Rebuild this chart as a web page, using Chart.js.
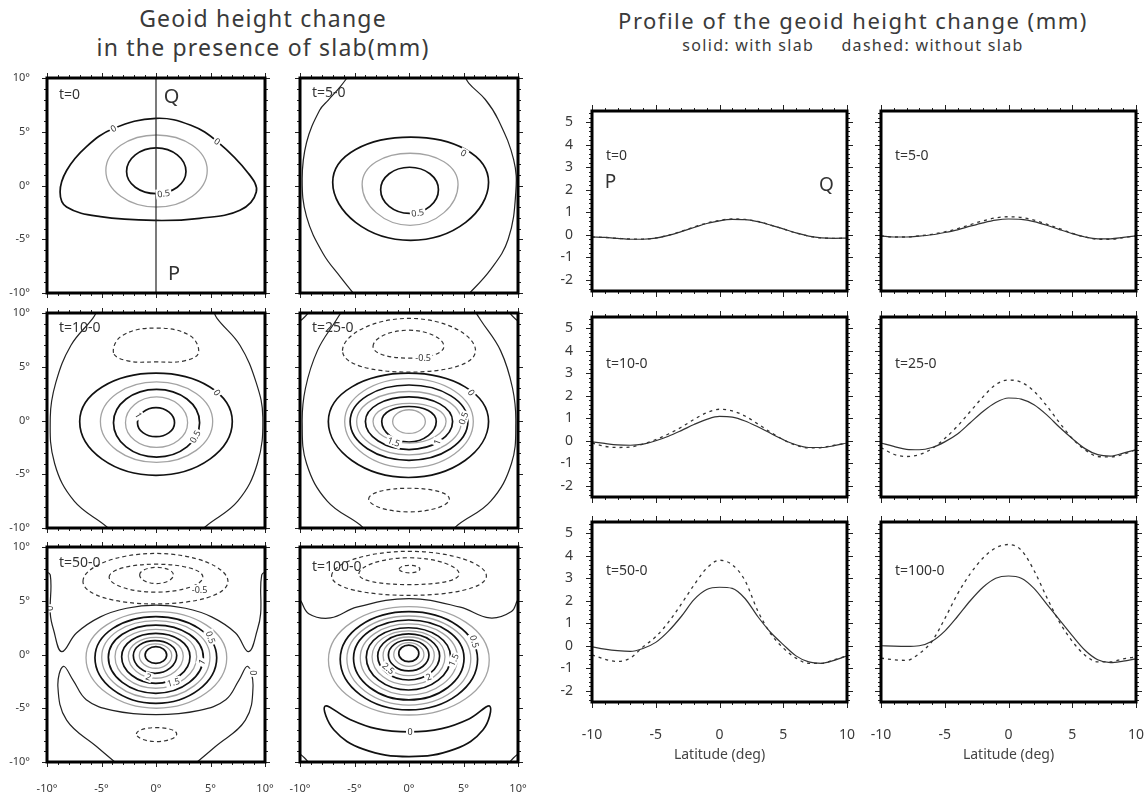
<!DOCTYPE html>
<html>
<head>
<meta charset="utf-8">
<script src="https://cdn.jsdelivr.net/npm/chart.js@4.4.1/dist/chart.umd.min.js"></script>
<style>
  body { margin: 0; width: 1147px; height: 793px; position: relative; overflow: hidden; background: #fff; font-family: 'Noto Sans', sans-serif; color: #3a3a3a; }
  canvas { position: absolute; }
  .title { position: absolute; text-align: center; white-space: nowrap; }
</style>
</head>
<body>
<div class="title" style="left:0;width:526px;top:4px;font-size:23px;line-height:29px;letter-spacing:1.2px;">Geoid height change<br>in the presence of slab(mm)</div>
<div class="title" style="left:560px;width:586px;top:6px;font-size:22px;line-height:28px;letter-spacing:1.5px;">Profile of the geoid height change (mm)</div>
<div class="title" style="left:560px;width:586px;top:35px;font-size:16px;line-height:21px;letter-spacing:1.3px;">solid: with slab &nbsp;&nbsp;&nbsp; dashed: without slab</div>
<script>
// ---------- profiles along P-Q (right half) ----------
const latitude = [-10, -9, -8, -7, -6, -5, -4, -3, -2, -1, 0, 1, 2, 3, 4, 5, 6, 7, 8, 9, 10];
const profileTicks = [-2, -1, 0, 1, 2, 3, 4, 5];

const solidT0 = [-0.1, -0.12, -0.16, -0.2, -0.2, -0.15, -0.03, 0.14, 0.32, 0.5, 0.62, 0.68, 0.67, 0.58, 0.43, 0.26, 0.08, -0.06, -0.14, -0.16, -0.15];
const dashT0 = [-0.1, -0.12, -0.16, -0.19, -0.19, -0.14, -0.02, 0.15, 0.34, 0.52, 0.64, 0.7, 0.68, 0.59, 0.43, 0.26, 0.08, -0.06, -0.14, -0.16, -0.15];
const solidT5 = [-0.05, -0.1, -0.1, -0.06, 0.0, 0.1, 0.22, 0.38, 0.53, 0.65, 0.7, 0.68, 0.58, 0.42, 0.23, 0.05, -0.1, -0.18, -0.18, -0.12, -0.05];
const dashT5 = [-0.05, -0.1, -0.1, -0.05, 0.02, 0.13, 0.27, 0.45, 0.62, 0.75, 0.8, 0.77, 0.65, 0.47, 0.27, 0.07, -0.1, -0.2, -0.2, -0.13, -0.05];
const solidT10 = [-0.05, -0.12, -0.18, -0.2, -0.15, 0.0, 0.2, 0.45, 0.72, 0.95, 1.08, 1.05, 0.88, 0.62, 0.33, 0.05, -0.18, -0.3, -0.3, -0.22, -0.1];
const dashT10 = [-0.1, -0.25, -0.3, -0.28, -0.15, 0.05, 0.3, 0.6, 0.95, 1.25, 1.4, 1.33, 1.1, 0.75, 0.38, 0.05, -0.2, -0.32, -0.3, -0.2, -0.1];
const solidT25 = [-0.1, -0.25, -0.38, -0.4, -0.3, -0.05, 0.3, 0.8, 1.3, 1.7, 1.9, 1.85, 1.6, 1.15, 0.6, 0.1, -0.35, -0.62, -0.68, -0.55, -0.4];
const dashT25 = [-0.3, -0.6, -0.7, -0.62, -0.35, 0.1, 0.65, 1.3, 1.95, 2.5, 2.7, 2.6, 2.2, 1.55, 0.8, 0.1, -0.4, -0.7, -0.72, -0.6, -0.4];
const solidT50 = [-0.05, -0.15, -0.22, -0.25, -0.12, 0.15, 0.65, 1.3, 2.05, 2.5, 2.6, 2.55, 2.1, 1.3, 0.6, 0.05, -0.45, -0.72, -0.78, -0.65, -0.45];
const dashT50 = [-0.4, -0.6, -0.7, -0.55, -0.05, 0.4, 1.05, 1.85, 2.7, 3.45, 3.8, 3.6, 2.9, 1.55, 0.55, -0.1, -0.55, -0.78, -0.78, -0.62, -0.45];
const solidT100 = [0.0, -0.02, -0.03, 0.0, 0.2, 0.65, 1.3, 2.0, 2.6, 3.0, 3.1, 3.0, 2.55, 1.85, 1.15, 0.45, -0.2, -0.62, -0.75, -0.68, -0.58];
const dashT100 = [-0.55, -0.62, -0.65, -0.35, 0.2, 1.2, 2.3, 3.2, 3.9, 4.35, 4.5, 4.25, 3.35, 2.15, 1.05, 0.2, -0.42, -0.72, -0.72, -0.58, -0.5];

// ---------- contour maps (left half), lon/lat in degrees ----------
// rings: [level, west lon, east lon, north lat, south lat, lat of west/east point]
const zeroT0 = [[0, -3.25], [-5.1, -2.9], [-8.2, -2.0], [-8.8, -0.6], [-8.2, 1.4], [-6.4, 3.6], [-3.9, 5.3], [0, 6.25], [3.2, 5.6], [5.6, 4.1], [8.5, 1.1], [9.2, -0.6], [7.7, -2.3], [4.0, -3.05]];
const ringsT0 = [[0.25, -4.6, 4.7, 4.7, -2.0, 1.4], [0.5, -2.7, 2.75, 3.5, -0.75, 1.3]];
const lineQP = [[0, -10.5], [0, 10.5]];

const ringsT5 = [[0, -7.0, 7.3, 4.5, -5.1, 0.3], [0.25, -4.3, 4.5, 3.0, -3.7, 0.1], [0.5, -2.6, 2.7, 1.7, -2.6, -0.4]];
const arcsT5 = [
  [[-5.4, 10.4], [-6.3, 9.2], [-7.4, 7.95], [-8.2, 7], [-9.4, 4], [-9.8, 0.6], [-9.4, -2.9], [-7.9, -6.3], [-6.3, -8.5], [-4.8, -10.4]],
  [[5.0, 10.4], [5.5, 9.5], [7.0, 8.0], [8.2, 6.1], [9.6, 2.4], [9.8, -0.6], [9.1, -5.0], [7.5, -7.8], [5.2, -10.4]]
];

const dashTopT10 = [[-3.9, 6.3], [-3.1, 7.9], [0, 8.6], [3.1, 7.9], [3.9, 6.3], [2.6, 5.55], [0, 5.45], [-2.6, 5.55]];
const ringsT10 = [[0, -7.0, 7.0, 4.4, -5.1, -0.1], [0.25, -5.1, 5.2, 3.6, -3.9, -0.1],
  [0.5, -3.9, 4.0, 2.9, -3.4, -0.2], [0.75, -2.8, 2.9, 2.2, -2.5, -0.2], [1.0, -1.7, 1.7, 1.2, -1.5, -0.2]];
const arcsT10 = [
  [[-5.3, 10.4], [-5.8, 9.5], [-7.8, 7], [-9.2, 3.5], [-9.7, 0.3], [-9.3, -4], [-7.5, -7.5], [-4.5, -9.9], [-4.2, -10.4]],
  [[5.2, 10.4], [5.6, 9.5], [7.7, 7], [9.2, 3.5], [9.8, 0.3], [9.3, -4], [7.5, -7.5], [4.5, -9.9], [4.2, -10.4]]
];

const ringsT25 = [[-0.25, -6.1, 6.1, 9.5, 4.5, 6.5], [-0.5, -3.3, 3.2, 8.4, 5.8, 6.9], [-0.25, -3.7, 3.7, -6.3, -8.5, -7.3],
  [0, -7.4, 7.3, 4.4, -5.3, -0.1], [0.25, -5.9, 5.9, 3.9, -4.4, -0.1], [0.5, -5.4, 5.4, 3.3, -3.7, -0.1],
  [0.75, -4.8, 4.8, 2.7, -3.2, -0.1], [1.0, -4.0, 4.0, 2.2, -2.7, -0.1], [1.25, -3.3, 3.4, 1.6, -2.1, -0.1],
  [1.5, -2.5, 2.5, 1.3, -2.0, -0.1], [1.75, -1.5, 1.5, 1.0, -1.2, -0.1]];
const arcsT25 = [
  [[-6.0, 10.4], [-6.7, 9.3], [-8.4, 6.5], [-9.5, 3], [-9.8, -0.2], [-9.4, -4], [-7.5, -7.5], [-4.5, -9.7], [-3.8, -10.4]],
  [[5.9, 10.4], [6.6, 9.3], [8.4, 6.5], [9.5, 3], [9.8, -0.2], [9.4, -4], [7.5, -7.5], [4.5, -9.7], [3.8, -10.4]],
  [[-10.3, 9.0], [-9.6, 9.6], [-9.0, 10.3]],
  [[10.3, 9.0], [9.6, 9.6], [9.0, 10.3]]
];

const ringsT50 = [[-0.25, -6.7, 6.6, 9.4, 4.7, 6.8], [-0.5, -4.3, 4.3, 8.4, 5.8, 7.2], [-0.75, -1.5, 1.6, 8.1, 6.6, 7.4],
  [-0.25, -1.8, 1.9, -6.8, -8.1, -7.4],
  [0.25, -6.42, 6.49, 3.98, -5.0, -0.3], [0.5, -5.6, 5.57, 3.52, -4.54, -0.3], [0.75, -4.98, 4.95, 3.15, -4.07, -0.25],
  [1.0, -4.37, 4.34, 2.74, -3.61, -0.25], [1.25, -3.76, 3.73, 2.34, -3.14, -0.2], [1.5, -3.15, 3.12, 1.97, -2.68, -0.2],
  [1.75, -2.54, 2.5, 1.6, -2.21, -0.15], [2.0, -2.08, 1.9, 1.29, -1.75, -0.1], [2.25, -1.53, 1.44, 0.98, -1.28, -0.1],
  [2.5, -1.0, 0.98, 0.73, -0.82, -0.05]];
const arcsT50 = [
  [[-10.3, 7.8], [-9.7, 7.4], [-9.7, 3.8], [-9.4, 2.3], [-8.65, 0.26], [-7.3, 2.0], [-5.1, 3.5], [-2.7, 4.3], [0, 4.6], [2.7, 4.3], [5.1, 3.5], [7.3, 2.0], [8.5, 0.26], [9.3, 2.3], [9.6, 3.8], [9.7, 7.4], [10.3, 7.8]],
  [[-3.3, -10.4], [-5.4, -8.6], [-8.2, -6.1], [-9.0, -3.0], [-8.5, -1.1], [-7.6, -2.4], [-6.4, -4.2], [-4, -5.2], [0, -5.6], [4, -5.2], [6.4, -4.2], [7.6, -2.4], [8.4, -1.1], [8.9, -3.0], [8.2, -6.1], [5.4, -8.6], [3.3, -10.4]]
];

const ringsT100 = [[-0.25, -7.1, 7.1, 9.6, 5.5, 7.3], [-0.5, -4.6, 4.6, 9.0, 6.5, 7.5], [-0.75, -0.9, 1.0, 8.3, 7.6, 7.95],
  [0.25, -7.39, 7.36, 4.45, -5.63, -0.5], [0.5, -6.31, 6.29, 3.98, -5.16, -0.45], [0.75, -5.7, 5.67, 3.58, -4.7, -0.4],
  [1.0, -5.09, 5.05, 3.21, -4.23, -0.35], [1.25, -4.47, 4.44, 2.84, -3.77, -0.3], [1.5, -3.92, 3.82, 2.49, -3.3, -0.25],
  [1.75, -3.39, 3.3, 2.19, -2.84, -0.2], [2.0, -2.87, 2.81, 1.91, -2.37, -0.15], [2.25, -2.38, 2.32, 1.63, -1.97, -0.1],
  [2.5, -1.89, 1.83, 1.35, -1.53, -0.05], [2.75, -1.4, 1.37, 1.1, -1.1, 0.0], [3.0, -0.94, 0.9, 0.88, -0.67, 0.1]];
const arcsT100 = [
  [[-10.4, 5.4], [-10, 5.1], [-9.2, 3.8], [-7.2, 3.4], [-4.8, 4.4], [0, 5.2], [4.7, 4.4], [7.4, 3.4], [9.4, 4.0], [10, 5.1], [10.4, 5.4]],
  [[-10.3, -9.0], [-9.6, -9.6], [-9.0, -10.3]],
  [[10.3, -9.0], [9.6, -9.6], [9.0, -10.3]]
];
const crescentT100 = [[-7.7, -4.8], [-5.5, -6.0], [-3, -6.9], [0, -7.2], [3, -6.9], [5.5, -6.0], [7.4, -4.8], [6.8, -7.0], [4.2, -8.8], [0, -9.5], [-4.2, -8.8], [-6.9, -7.0]];

// contour labels: [lon, lat, text, angle]
const labelsT0 = [[-3.9, 5.3, '0', -30], [5.6, 4.1, '0', 35], [0.7, -0.75, '0.5', -8]];
const labelsT5 = [[5.0, 3.0, '0', 30], [0.8, -2.55, '0.5', -8]];
const labelsT10 = [[5.6, 2.6, '0', 55], [3.6, -1.5, '0.5', -60], [-1.6, 0.5, '1', 60]];
const labelsT25 = [[5.7, 2.6, '0', 55], [5.0, 0.2, '0.5', -70], [2.6, -2.0, '1', -70], [-1.4, -2.0, '1.5', 20], [1.3, 5.8, '-0.5', 0]];
const labelsT50 = [[5.0, 1.6, '0.5', 70], [4.2, -0.7, '1', -60], [1.6, -2.6, '1.5', -15], [-0.7, -2.1, '2', 20], [-9.85, 4.3, '0', 90], [8.95, -1.7, '0', 90], [4.0, 6.0, '-0.5', 0]];
const labelsT100 = [[6.0, 1.2, '0.5', 75], [4.1, -0.5, '1.5', -65], [1.8, -2.1, '2', -20], [-1.9, -1.3, '2.5', 40], [0.1, -7.2, '0', 0]];

Chart.defaults.font.family = "'Noto Sans', sans-serif";
Chart.defaults.color = '#3a3a3a';

// draws the heavy frame, the tick marks on all four sides and the text inside the panel
const framePlugin = {
  id: 'frame',
  afterDatasetsDraw(chart, args, opt) {
    const { ctx, chartArea: a, scales } = chart;
    const xs = scales.x, ys = scales.y;
    ctx.save();
    (opt.labels || []).forEach(([lon, la, txt, ang]) => {
      ctx.save();
      ctx.translate(xs.getPixelForValue(lon), ys.getPixelForValue(la));
      ctx.rotate(ang * Math.PI / 180);
      ctx.font = "9px 'Noto Sans', sans-serif";
      const w = ctx.measureText(txt).width;
      ctx.fillStyle = '#fff';
      ctx.fillRect(-w / 2 - 1.5, -5, w + 3, 10);
      ctx.fillStyle = '#333';
      ctx.textAlign = 'center';
      ctx.textBaseline = 'middle';
      ctx.fillText(txt, 0, 0.5);
      ctx.restore();
    });
    (opt.texts || []).forEach(([lon, v, txt, size]) => {
      ctx.font = size + "px 'Noto Sans', sans-serif";
      ctx.fillStyle = '#333';
      ctx.textAlign = 'left';
      ctx.textBaseline = 'middle';
      ctx.fillText(txt, xs.getPixelForValue(lon), ys.getPixelForValue(v));
    });
    ctx.strokeStyle = '#222';
    ctx.lineWidth = 1;
    ctx.beginPath();
    const nx = Math.round((xs.max - xs.min) / opt.xMinor);
    for (let k = 0; k <= nx; k++) {
      const v = xs.min + k * opt.xMinor;
      const p = Math.round(xs.getPixelForValue(v)) + 0.5;
      const len = Math.abs(v / opt.xMajor - Math.round(v / opt.xMajor)) < 1e-6 ? opt.major : opt.minor;
      ctx.moveTo(p, a.top); ctx.lineTo(p, a.top - len);
      ctx.moveTo(p, a.bottom); ctx.lineTo(p, a.bottom + len);
    }
    const y0 = Math.ceil(ys.min / opt.yMinor - 1e-6);
    const y1 = Math.floor(ys.max / opt.yMinor + 1e-6);
    for (let k = y0; k <= y1; k++) {
      const v = k * opt.yMinor;
      const p = Math.round(ys.getPixelForValue(v)) + 0.5;
      const len = Math.abs(v / opt.yMajor - Math.round(v / opt.yMajor)) < 1e-6 ? opt.major : opt.minor;
      ctx.moveTo(a.left, p); ctx.lineTo(a.left - len, p);
      ctx.moveTo(a.right, p); ctx.lineTo(a.right + len, p);
    }
    ctx.stroke();
    ctx.strokeStyle = '#000';
    ctx.lineWidth = 3;
    ctx.strokeRect(a.left, a.top, a.right - a.left, a.bottom - a.top);
    ctx.restore();
  }
};

// canvas = plot rectangle plus generous margins, so the layout never has to shrink the plot
function makeCanvas(rect, m) {
  const c = document.createElement('canvas');
  const w = rect[2] + m.l + m.r, h = rect[3] + m.t + m.b;
  c.width = w; c.height = h;
  c.style.left = (rect[0] - m.l) + 'px';
  c.style.top = (rect[1] - m.t) + 'px';
  c.style.width = w + 'px';
  c.style.height = h + 'px';
  document.body.appendChild(c);
  return c;
}

function styleFor(lv) {
  if (lv < 0) return { color: '#333', width: 1.2, dash: [4, 3] };
  if (Math.round(lv * 4) % 2 === 1) return { color: '#a3a3a3', width: 1.3, dash: [] };
  return { color: '#111', width: 1.7, dash: [] };
}

function ringLoop(r) {
  const [lv, w, e, n, s, yc] = r;
  const cx = (w + e) / 2;
  return [[w, yc], [cx, n], [e, yc], [cx, s]];
}

function curveSet(pts, st, closed, tension) {
  const src = closed ? [pts[pts.length - 1], ...pts, pts[0], pts[1]] : pts;
  const last = src.length - 2;
  const ds = {
    data: src.map(([x, y]) => ({ x, y })),
    borderColor: st.color, borderWidth: st.width, borderDash: st.dash,
    pointRadius: 0, tension: tension, fill: false, clip: 0
  };
  if (closed) {
    ds.segment = { borderColor: c => (c.p0DataIndex === 0 || c.p0DataIndex === last) ? 'rgba(0,0,0,0)' : st.color };
  }
  return ds;
}

function contourChart(rect, rings, loops, arcs, labels, texts, showX, showY) {
  const m = { l: 45, r: 30, t: 30, b: 30 };
  const datasets = [];
  const arcStyle = { color: '#222', width: 1.2, dash: [] };
  arcs.forEach(p => datasets.push(curveSet(p, arcStyle, false, 0.4)));
  loops.forEach(([lv, p]) => datasets.push(curveSet(p, styleFor(lv), true, 0.4)));
  rings.forEach(r => datasets.push(curveSet(ringLoop(r), styleFor(r[0]), true, 0.55)));
  new Chart(makeCanvas(rect, m), {
    type: 'line',
    data: { datasets },
    plugins: [framePlugin],
    options: {
      responsive: false,
      animation: false,
      events: [],
      layout: { padding: { top: m.t, right: m.r, left: 0, bottom: 0 } },
      elements: { line: { capBezierPoints: false } },
      plugins: {
        legend: { display: false }, tooltip: { enabled: false },
        frame: { labels, texts, xMinor: 1, xMajor: 5, yMinor: 1, yMajor: 5, minor: 3, major: 5 }
      },
      scales: {
        x: {
          type: 'linear', min: -10, max: 10,
          grid: { display: false }, border: { display: false },
          ticks: { display: showX, stepSize: 5, padding: 12, font: { size: 11 }, callback: v => v + '°' },
          afterFit: s => { s.height = m.b; }
        },
        y: {
          type: 'linear', min: -10, max: 10,
          grid: { display: false }, border: { display: false },
          ticks: { display: showY, stepSize: 5, padding: 9, font: { size: 11 }, callback: v => v + '°' },
          afterFit: s => { s.width = m.l; }
        }
      }
    }
  });
}

function profileChart(rect, solid, dashed, texts, showX, showY) {
  const m = { l: 45, r: 30, t: 30, b: showX ? 65 : 30 };
  new Chart(makeCanvas(rect, m), {
    type: 'line',
    data: {
      datasets: [
        { data: latitude.map((x, i) => ({ x, y: dashed[i] })), borderColor: '#333', borderWidth: 1.3, borderDash: [3, 4], pointRadius: 0, cubicInterpolationMode: 'monotone', clip: 0 },
        { data: latitude.map((x, i) => ({ x, y: solid[i] })), borderColor: '#333', borderWidth: 1.2, pointRadius: 0, cubicInterpolationMode: 'monotone', clip: 0 }
      ]
    },
    plugins: [framePlugin],
    options: {
      responsive: false,
      animation: false,
      events: [],
      layout: { padding: { top: m.t, right: m.r, left: 0, bottom: 0 } },
      plugins: {
        legend: { display: false }, tooltip: { enabled: false },
        frame: { texts, xMinor: 1, xMajor: 5, yMinor: 0.2, yMajor: 1, minor: 3, major: 6 }
      },
      scales: {
        x: {
          type: 'linear', min: -10, max: 10,
          grid: { display: false }, border: { display: false },
          ticks: { display: showX, stepSize: 5, padding: 17, font: { size: 14 } },
          title: { display: showX, text: 'Latitude (deg)', font: { size: 14 }, color: '#444' },
          afterFit: s => { s.height = m.b; }
        },
        y: {
          type: 'linear', min: -2.5, max: 5.5,
          grid: { display: false }, border: { display: false },
          afterBuildTicks: s => { s.ticks = profileTicks.map(v => ({ value: v })); },
          ticks: { display: showY, padding: 11, font: { size: 14 } },
          afterFit: s => { s.width = m.l; }
        }
      }
    }
  });
}

// ---- left: contour maps ----
const cx0 = 47, cx1 = 300, cw = 218, ch = 215;
contourChart([cx0, 78, cw, ch], ringsT0, [[0, zeroT0]], [lineQP], labelsT0,
  [[-8.9, 8.4, 't=0', 14], [0.7, 8.2, 'Q', 20], [1.1, -8.3, 'P', 20]], false, true);
contourChart([cx1, 78, cw, ch], ringsT5, [], arcsT5, labelsT5, [[-8.9, 8.6, 't=5-0', 14]], false, false);
contourChart([cx0, 313, cw, ch], ringsT10, [[-0.25, dashTopT10]], arcsT10, labelsT10, [[-8.9, 8.6, 't=10-0', 14]], false, true);
contourChart([cx1, 313, cw, ch], ringsT25, [], arcsT25, labelsT25, [[-8.9, 8.6, 't=25-0', 14]], false, false);
contourChart([cx0, 547, cw, ch], ringsT50, [], arcsT50, labelsT50, [[-8.9, 8.5, 't=50-0', 14]], true, true);
contourChart([cx1, 547, cw, ch], ringsT100, [[0, crescentT100]], arcsT100, labelsT100, [[-8.9, 8.1, 't=100-0', 14]], true, false);

// ---- right: profiles ----
const px0 = 592, px1 = 881, pw = 255, ph = 180;
profileChart([px0, 111, pw, ph], solidT0, dashT0, [[-8.9, 3.5, 't=0', 14], [-9.0, 2.3, 'P', 19], [7.8, 2.2, 'Q', 19]], false, true);
profileChart([px1, 111, pw, ph], solidT5, dashT5, [[-8.9, 3.5, 't=5-0', 14]], false, false);
profileChart([px0, 317, pw, ph], solidT10, dashT10, [[-8.9, 3.4, 't=10-0', 14]], false, true);
profileChart([px1, 317, pw, ph], solidT25, dashT25, [[-8.9, 3.4, 't=25-0', 14]], false, false);
profileChart([px0, 522, pw, ph], solidT50, dashT50, [[-8.9, 3.3, 't=50-0', 14]], true, true);
profileChart([px1, 522, pw, ph], solidT100, dashT100, [[-8.9, 3.3, 't=100-0', 14]], true, false);
</script>
</body>
</html>
